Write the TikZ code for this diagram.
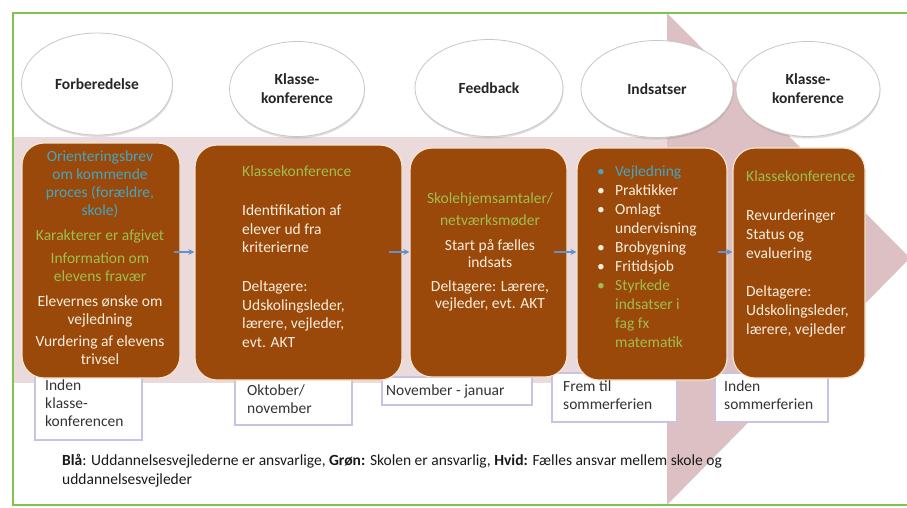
\documentclass[tikz,border=0pt]{standalone}
\usepackage{fontspec}
\setmainfont{Carlito}
\usetikzlibrary{shapes.geometric,shadows,arrows.meta}
\definecolor{bandpink}{RGB}{234,218,219}
\definecolor{headpink}{RGB}{221,192,196}
\definecolor{framegreen}{RGB}{130,195,75}
\definecolor{brownbox}{RGB}{154,73,10}
\definecolor{cream}{RGB}{245,228,205}
\definecolor{creamtext}{RGB}{250,238,222}
\definecolor{tealc}{RGB}{70,165,192}
\definecolor{greenc}{RGB}{160,190,80}
\definecolor{lav}{RGB}{200,195,228}
\definecolor{arrowblue}{RGB}{100,145,200}
\tikzset{
  phase/.style={ellipse, draw=black!22, line width=0.8pt, fill=white, inner sep=0pt,
    font=\fontsize{15.5}{19}\selectfont\bfseries, text=black!85, align=center,
    drop shadow={opacity=0.25, shadow xshift=0.5pt, shadow yshift=-2pt}},
  stage/.style={draw=cream, line width=1.2pt, fill=brownbox, rounded corners=22pt, inner sep=0pt},
  when/.style={draw=lav, line width=1.5pt, fill=white, inner sep=0pt},
  btext/.style={inner sep=0pt, text=creamtext},
  dtext/.style={inner sep=0pt, text=black!80, align=left, font=\fontsize{15.5}{18}\selectfont},
  flow/.style={-{Stealth[length=6pt,width=6pt]}, line width=1.8pt, draw=arrowblue},
}
\begin{document}
\begin{tikzpicture}[x=1pt,y=-1pt]
\useasboundingbox (0,0) rectangle (907,507);
\fill[white] (0,0) rectangle (907,507);
% big arrow
\fill[bandpink] (13,137) rectangle (667,383);
\fill[headpink] (667,13) -- (910,258) -- (667,505) -- cycle;
% frame
\draw[framegreen, line width=2.5pt] (950,13) -- (13,13) -- (13,505) -- (950,505);
% phases
\node[phase, minimum width=151pt, minimum height=102pt] (e1) at (97,84) {Forberedelse};
\node[phase, minimum width=135pt, minimum height=95pt] (e2) at (297,89) {Klasse-\\konference};
\node[phase, minimum width=148pt, minimum height=97pt] (e3) at (489,88) {Feedback};
\node[phase, minimum width=152pt, minimum height=97pt] (e4) at (657,89) {Indsatser};
\node[phase, minimum width=144pt, minimum height=95pt] (e5) at (808,89) {Klasse-\\konference};
% date boxes
\node[when, minimum width=107pt, minimum height=67pt] (d1) at (88.5,406.5) {};
\node[when, minimum width=117pt, minimum height=48pt] (d2) at (293.5,401) {};
\node[when, minimum width=150pt, minimum height=28pt] (d3) at (457,391) {};
\node[when, minimum width=125pt, minimum height=49pt] (d4) at (614.5,397.5) {};
\node[when, minimum width=113pt, minimum height=49pt] (d5) at (771.5,397.5) {};
% stages
\node[stage, minimum width=158pt, minimum height=235pt] (s1) at (101,260.5) {};
\node[stage, minimum width=207pt, minimum height=235pt] (s2) at (298.5,262.5) {};
\node[stage, minimum width=157pt, minimum height=229pt] (s3) at (488.5,262.5) {};
\node[stage, minimum width=150pt, minimum height=232pt] (s4) at (652,264) {};
\node[stage, minimum width=132pt, minimum height=230pt] (s5) at (799,263) {};
% stage texts
\node[btext, anchor=north, align=center, font=\fontsize{15.5}{18}\selectfont] (t1) at (100,151) {%
\textcolor{tealc}{Orienteringsbrev}\\\textcolor{tealc}{om kommende}\\\textcolor{tealc}{proces (forældre,}\\\textcolor{tealc}{skole)}\\[7pt]
\textcolor{greenc}{Karakterer er afgivet}\\[5pt]
\textcolor{greenc}{Information om}\\\textcolor{greenc}{elevens fravær}\\[7pt]
Elevernes ønske om\\vejledning\\[4pt]
Vurdering af elevens\\trivsel};
\node[btext, anchor=north west, align=left, font=\fontsize{15.5}{18.5}\selectfont] (t2) at (242,166) {%
\textcolor{greenc}{Klassekonference}\\[20.5pt]
Identifikation af\\elever ud fra\\kriterierne\\[20.5pt]
Deltagere:\\Udskolingsleder,\\lærere, vejleder,\\evt. AKT};
\node[btext, anchor=north, align=center, font=\fontsize{15.5}{17}\selectfont] (t3) at (490,193) {%
\textcolor{greenc}{Skolehjemsamtaler/}\\[5pt]
\textcolor{greenc}{netværksmøder}\\[8pt]
Start på fælles\\indsats\\[7pt]
Deltagere: Lærere,\\vejleder, evt. AKT};
\node[btext, anchor=north west, align=left, font=\fontsize{15.5}{19}\selectfont] (t4) at (597,166) {%
\textcolor{tealc}{\makebox[18pt][l]{•}Vejledning}\\
\makebox[18pt][l]{•}Praktikker\\
\makebox[18pt][l]{•}Omlagt\\
\hspace*{18pt}undervisning\\
\makebox[18pt][l]{•}Brobygning\\
\makebox[18pt][l]{•}Fritidsjob\\
\textcolor{greenc}{\makebox[18pt][l]{•}Styrkede}\\
\textcolor{greenc}{\hspace*{18pt}indsatser i}\\
\textcolor{greenc}{\hspace*{18pt}fag fx}\\
\textcolor{greenc}{\hspace*{18pt}matematik}};
\node[btext, anchor=north west, align=left, font=\fontsize{15.5}{19}\selectfont] (t5) at (746,171) {%
\textcolor{greenc}{Klassekonference}\\[20pt]
Revurderinger\\Status og\\evaluering\\[19pt]
Deltagere:\\Udskolingsleder,\\lærere, vejleder};
% date texts
\node[dtext, anchor=north west] (w1) at (45,380) {Inden\\klasse-\\konferencen};
\node[dtext, anchor=north west] (w2) at (247,385) {Oktober/\\november};
\node[dtext, anchor=north west] (w3) at (386,385) {November - januar};
\node[dtext, anchor=north west] (w4) at (563,381) {Frem til\\sommerferien};
\node[dtext, anchor=north west] (w5) at (724,381) {Inden\\sommerferien};
% flow arrows
\coordinate (row) at (0,252);
\draw[flow] ([xshift=-7pt]s1.east |- row) -- (s2.west |- row);
\draw[flow] ([xshift=-14pt]s2.east |- row) -- (s3.west |- row);
\draw[flow] ([xshift=-14pt]s3.east |- row) -- (s4.west |- row);
\draw[flow] ([xshift=-10pt]s4.east |- row) -- (s5.west |- row);
% caption
\node[anchor=north west, inner sep=0pt, align=left, text=black!90, font=\fontsize{15.5}{19}\selectfont] (cap) at (62,454)
{\textbf{Blå}: Uddannelsesvejlederne er ansvarlige, \textbf{Grøn:} Skolen er ansvarlig, \textbf{Hvid:} Fælles ansvar mellem skole og\\uddannelsesvejleder};
\end{tikzpicture}
\end{document}
